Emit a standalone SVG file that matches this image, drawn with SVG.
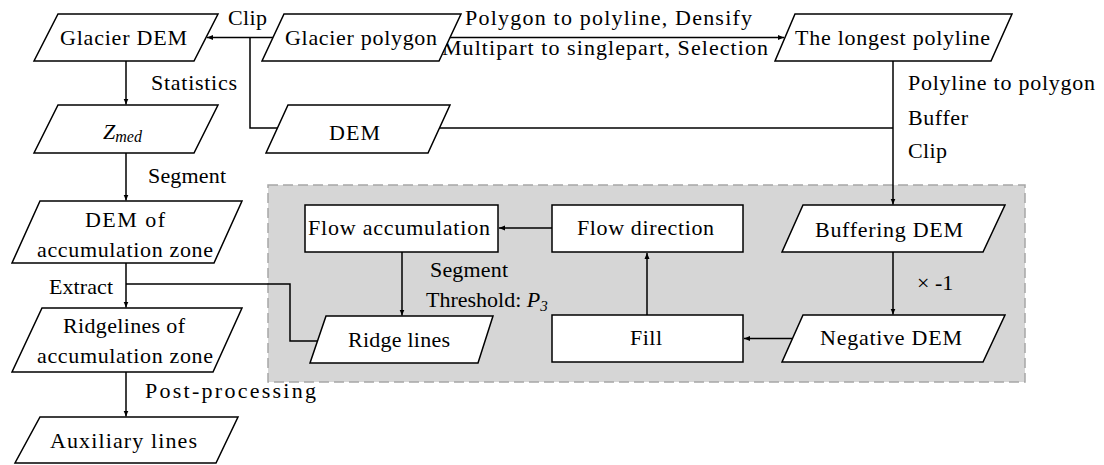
<svg xmlns="http://www.w3.org/2000/svg" width="1104" height="465" viewBox="0 0 1104 465">
<style>
.s{fill:#fff;stroke:#000;stroke-width:1.5}
text{font-family:"Liberation Serif","Times New Roman",serif;font-size:22px;fill:#000}
.c{fill:none;stroke:#000;stroke-width:1.5}
</style>
<defs>
<marker id="ah" markerUnits="userSpaceOnUse" markerWidth="6" markerHeight="6" refX="6" refY="3" orient="auto">
<path d="M0,0.5 L6,3 L0,5.5 z" fill="#000"/>
</marker>
</defs>
<rect x="268" y="185" width="757" height="197" fill="#d6d6d6" stroke="#a6a6a6" stroke-width="1.5" stroke-dasharray="10,5"/>
<g id="connectors">
<path class="c" d="M273 37.5 H207" marker-end="url(#ah)"/>
<path class="c" d="M250 37.5 V128 H277.5"/>
<path class="c" d="M450 37.5 H784" marker-end="url(#ah)"/>
<path class="c" d="M439 128 H893"/>
<path class="c" d="M893 61 V204.5" marker-end="url(#ah)"/>
<path class="c" d="M126 61 V104.5" marker-end="url(#ah)"/>
<path class="c" d="M126 153 V200.5" marker-end="url(#ah)"/>
<path class="c" d="M126 263 V307.5" marker-end="url(#ah)"/>
<path class="c" d="M126 284 H290 V341 H317.5"/>
<path class="c" d="M126 372 V416.5" marker-end="url(#ah)"/>
<path class="c" d="M893 252 V314.5" marker-end="url(#ah)"/>
<path class="c" d="M792 338.5 H744" marker-end="url(#ah)"/>
<path class="c" d="M647 315 V253" marker-end="url(#ah)"/>
<path class="c" d="M552 228 H499" marker-end="url(#ah)"/>
<path class="c" d="M402 252 V315.5" marker-end="url(#ah)"/>
</g>
<g id="labels">
<text x="228" y="25" textLength="39" lengthAdjust="spacing">Clip</text>
<text x="465" y="25" textLength="287" lengthAdjust="spacing">Polygon to polyline,  Densify</text>
<text x="442" y="55" textLength="326" lengthAdjust="spacing">Multipart to singlepart, Selection</text>
<text x="151" y="90" textLength="86" lengthAdjust="spacing">Statistics</text>
<text x="908" y="90" textLength="187" lengthAdjust="spacing">Polyline to polygon</text>
<text x="908" y="125" textLength="60" lengthAdjust="spacing">Buffer</text>
<text x="908" y="158" textLength="39" lengthAdjust="spacing">Clip</text>
<text x="148" y="183" textLength="78" lengthAdjust="spacing">Segment</text>
<text x="49" y="294" textLength="64" lengthAdjust="spacing">Extract</text>
<text x="145" y="398" textLength="171" lengthAdjust="spacing">Post-processing</text>
<text x="430" y="277" textLength="78" lengthAdjust="spacing">Segment</text>
<text x="426" y="307">Threshold: <tspan font-style="italic">P</tspan><tspan font-style="italic" font-size="15" dy="4">3</tspan></text>
<text x="917" y="290">× -1</text>
</g>
<g id="glacier-dem">
<polygon class="s" points="58,14 218,14 194,61 34,61"/>
<text x="60" y="45" textLength="127" lengthAdjust="spacing">Glacier DEM</text>
</g>
<g id="glacier-polygon">
<polygon class="s" points="284,14 461,14 439,61 262,61"/>
<text x="285" y="45" textLength="152" lengthAdjust="spacing">Glacier polygon</text>
</g>
<g id="longest-polyline">
<polygon class="s" points="795,14 1012,14 991,61 775,61"/>
<text x="795" y="45" textLength="195" lengthAdjust="spacing">The longest polyline</text>
</g>
<g id="zmed">
<polygon class="s" points="58,105 218,105 194,153 34,153"/>
<text x="103" y="139" font-style="italic">Z<tspan font-size="16" dy="3">med</tspan></text>
</g>
<g id="dem">
<polygon class="s" points="288,105 450,105 428,153 266,153"/>
<text x="329" y="140" textLength="51" lengthAdjust="spacing">DEM</text>
</g>
<g id="dem-acc">
<polygon class="s" points="40,201 242,201 214,263 12,263"/>
<text x="85" y="227" textLength="80" lengthAdjust="spacing">DEM of</text>
<text x="37" y="257" textLength="176" lengthAdjust="spacing">accumulation zone</text>
</g>
<g id="ridgelines-acc">
<polygon class="s" points="42,308 242,308 213,372 12,372"/>
<text x="63" y="333" textLength="122" lengthAdjust="spacing">Ridgelines of</text>
<text x="37" y="363" textLength="176" lengthAdjust="spacing">accumulation zone</text>
</g>
<g id="auxiliary-lines">
<polygon class="s" points="40,417 238,417 216,463 15,463"/>
<text x="50" y="448" textLength="147" lengthAdjust="spacing">Auxiliary lines</text>
</g>
<g id="flow-accumulation">
<rect class="s" x="305" y="205" width="193" height="47"/>
<text x="308" y="235" textLength="182" lengthAdjust="spacing">Flow accumulation</text>
</g>
<g id="flow-direction">
<rect class="s" x="552" y="205" width="191" height="47"/>
<text x="577" y="235" textLength="137" lengthAdjust="spacing">Flow direction</text>
</g>
<g id="fill">
<rect class="s" x="552" y="315" width="191" height="47"/>
<text x="630" y="345" textLength="32" lengthAdjust="spacing">Fill</text>
</g>
<g id="buffering-dem">
<polygon class="s" points="803,205 1005,205 983,252 782,252"/>
<text x="815" y="237" textLength="148" lengthAdjust="spacing">Buffering DEM</text>
</g>
<g id="negative-dem">
<polygon class="s" points="803,315 1005,315 983,362 782,362"/>
<text x="820" y="345" textLength="142" lengthAdjust="spacing">Negative DEM</text>
</g>
<g id="ridge-lines">
<polygon class="s" points="326,316 493,316 478,363 310,363"/>
<text x="348" y="347" textLength="102" lengthAdjust="spacing">Ridge lines</text>
</g>
</svg>
